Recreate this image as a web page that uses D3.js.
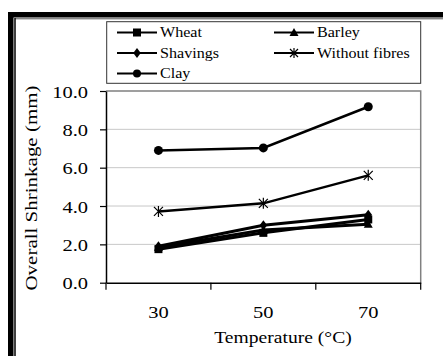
<!DOCTYPE html>
<html>
<head>
<meta charset="utf-8">
<script src="https://cdn.jsdelivr.net/npm/d3@7"></script>
<style>
  html, body { margin: 0; padding: 0; background: #fff; }
  svg { display: block; }
  svg text { font-family: Liberation Serif, Tinos, DejaVu Serif, serif; }
</style>
</head>
<body>
<svg id="chart" width="443" height="356"></svg>
<script>
// Temperatures (°C) on the category axis
const temperatures = ["30", "50", "70"];

// Overall shrinkage (mm) for each mix
const wheat         = [1.75, 2.60, 3.30];
const barley        = [1.85, 2.75, 3.05];
const shavings      = [1.90, 3.00, 3.55];
const withoutFibres = [3.72, 4.14, 5.60];
const clay          = [6.90, 7.03, 9.18];

const yTicks = [0, 2, 4, 6, 8, 10];

const seriesNames = ["Wheat", "Barley", "Shavings", "Without fibres", "Clay"];
const seriesValues = [wheat, barley, shavings, withoutFibres, clay];
const seriesMarkers = ["square", "triangle", "diamond", "asterisk", "circle"];

const FONT = "Liberation Serif, Tinos, DejaVu Serif, serif";
const SX = 1.17; // horizontal stretch of the glyphs

const svg = d3.select("#chart");

// frame of the figure: heavy outer rule plus a thin inner one
svg.append("rect").attr("x", 8).attr("y", 12).attr("width", 435).attr("height", 5.5).attr("fill", "#000");
svg.append("rect").attr("x", 8).attr("y", 12).attr("width", 5.5).attr("height", 344).attr("fill", "#000");
svg.append("line").attr("x1", 15).attr("x2", 443).attr("y1", 18.8).attr("y2", 18.8)
  .attr("stroke", "#555").attr("stroke-width", 1);
svg.append("line").attr("x1", 15).attr("x2", 15).attr("y1", 18).attr("y2", 356)
  .attr("stroke", "#000").attr("stroke-width", 1.5);

const plot = { left: 106, right: 420.7, top: 91, bottom: 282.7 };

const x = d3.scaleBand().domain(temperatures).range([plot.left, plot.right]).paddingInner(0).paddingOuter(0);
const y = d3.scaleLinear().domain([0, 10]).range([plot.bottom, plot.top]);
const cx = d => x(d) + x.bandwidth() / 2;

// horizontal gridlines
svg.append("g").selectAll("line").data(yTicks.filter(t => t > 0 && t < 10)).join("line")
  .attr("x1", plot.left).attr("x2", plot.right)
  .attr("y1", d => y(d)).attr("y2", d => y(d))
  .attr("stroke", "#c8c8c8").attr("stroke-width", 1);

// plot area border (top and right)
svg.append("path")
  .attr("d", `M${plot.left},${y(10)}H${plot.right}V${plot.bottom}`)
  .attr("fill", "none").attr("stroke", "#808080").attr("stroke-width", 1.5);

// y axis
const yAxis = svg.append("g").attr("transform", `translate(${plot.left},0)`)
  .call(d3.axisLeft(y).tickValues(yTicks).tickFormat(d3.format(".1f")).tickSize(6).tickSizeOuter(0))
  .attr("font-family", FONT).attr("font-size", 17.5);
yAxis.select(".domain").attr("stroke", "#000").attr("stroke-width", 1.5);
yAxis.selectAll(".tick line").attr("stroke", "#000").attr("stroke-width", 1.2);
yAxis.selectAll(".tick text")
  .attr("fill", "#000")
  .attr("x", -18 / SX).attr("dy", "0.35em")
  .attr("transform", `scale(${SX},1)`);

// x axis: baseline, ticks at category boundaries, labels at category centres
const xAxis = svg.append("g").attr("transform", `translate(0,${plot.bottom})`)
  .call(d3.axisBottom(x).tickSize(0).tickSizeOuter(0))
  .attr("font-family", FONT).attr("font-size", 17.5);
xAxis.select(".domain").attr("stroke", "#000").attr("stroke-width", 1.5);
xAxis.selectAll(".tick text")
  .attr("fill", "#000")
  .attr("y", 35).attr("dy", 0)
  .attr("transform", `scale(${SX},1)`)
  .attr("x", 0);
const boundaries = temperatures.map(t => x(t)).concat([x(temperatures[2]) + x.bandwidth()]);
svg.append("g").selectAll("line").data(boundaries).join("line")
  .attr("x1", d => d).attr("x2", d => d)
  .attr("y1", plot.bottom).attr("y2", plot.bottom + 7)
  .attr("stroke", "#000").attr("stroke-width", 1.2);

// axis titles
svg.append("text")
  .attr("transform", `translate(283,343) scale(1.12,1)`)
  .attr("text-anchor", "middle")
  .attr("font-family", FONT).attr("font-size", 17.5)
  .text("Temperature (°C)");
svg.append("text")
  .attr("transform", `translate(37,188) rotate(-90) scale(1.2,1)`)
  .attr("text-anchor", "middle")
  .attr("font-family", FONT).attr("font-size", 17.5)
  .text("Overall Shrinkage (mm)");

// marker shapes
function drawMarker(g, type, px, py, s) {
  if (type === "square") {
    g.append("rect").attr("x", px - s / 2).attr("y", py - s / 2).attr("width", s).attr("height", s).attr("fill", "#000");
  } else if (type === "circle") {
    g.append("circle").attr("cx", px).attr("cy", py).attr("r", s / 2).attr("fill", "#000");
  } else if (type === "diamond") {
    const h = s / 2 + 1;
    g.append("path").attr("d", `M${px},${py - h}L${px + h * 0.75},${py}L${px},${py + h}L${px - h * 0.75},${py}Z`).attr("fill", "#000");
  } else if (type === "triangle") {
    const h = s / 2 + 0.5;
    g.append("path").attr("d", `M${px},${py - h}L${px + h},${py + h * 0.8}L${px - h},${py + h * 0.8}Z`).attr("fill", "#000");
  } else if (type === "asterisk") {
    const h = s / 2;
    g.append("path")
      .attr("d", `M${px - h},${py - h}L${px + h},${py + h}M${px - h},${py + h}L${px + h},${py - h}M${px},${py - h - 1}V${py + h + 1}`)
      .attr("stroke", "#000").attr("stroke-width", 1.2).attr("fill", "none");
  }
}

// series lines and markers
const line = d3.line().x((d, i) => cx(temperatures[i])).y(d => y(d));
const lineWidths = [3, 3, 3, 2.5, 2.5];
const markerSizes = [8, 8, 8, 9, 9];
const series = svg.append("g");
seriesValues.forEach((vals, k) => {
  series.append("path").datum(vals).attr("d", line)
    .attr("fill", "none").attr("stroke", "#000").attr("stroke-width", lineWidths[k]);
});
seriesValues.forEach((vals, k) => {
  vals.forEach((v, i) => drawMarker(series, seriesMarkers[k], cx(temperatures[i]), y(v), markerSizes[k]));
});

// legend
const legend = svg.append("g").attr("font-family", FONT).attr("font-size", 14);
legend.append("rect").attr("x", 106.7).attr("y", 21.7).attr("width", 314).attr("height", 61.6)
  .attr("fill", "#fff").attr("stroke", "#333").attr("stroke-width", 1);
const legendPos = [
  { x: 117, y: 32.5 }, { x: 274, y: 32.5 },
  { x: 117, y: 53 },   { x: 274, y: 53 },
  { x: 117, y: 73.5 }
];
seriesNames.forEach((name, k) => {
  const p = legendPos[k];
  legend.append("line").attr("x1", p.x).attr("x2", p.x + 40).attr("y1", p.y).attr("y2", p.y)
    .attr("stroke", "#000").attr("stroke-width", 2);
  drawMarker(legend, seriesMarkers[k], p.x + 20, p.y, 8);
  legend.append("text")
    .attr("transform", `translate(${p.x + 43},${p.y}) scale(1.15,1)`)
    .attr("dy", "0.35em")
    .text(name);
});
</script>
</body>
</html>
